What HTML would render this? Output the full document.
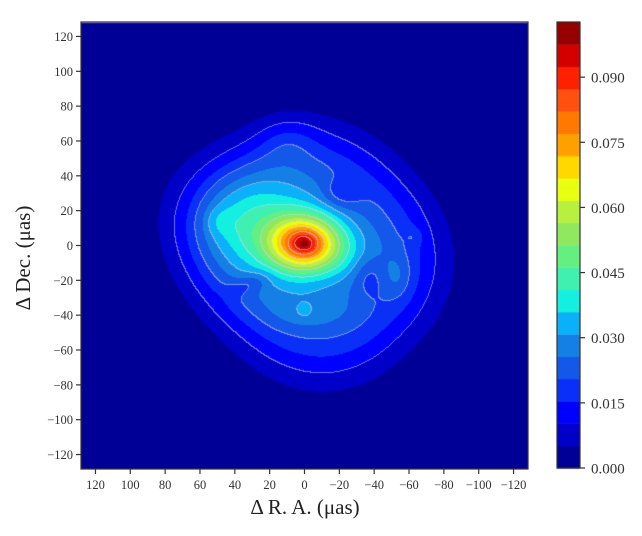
<!DOCTYPE html>
<html><head><meta charset="utf-8">
<style>
html,body{margin:0;padding:0;background:#fff;}
#wrap{position:relative;width:642px;height:536px;overflow:hidden;font-family:"Liberation Serif",serif;}
canvas{position:absolute;left:0;top:0;}
</style></head>
<body>
<div id="wrap">
<canvas id="cv" width="642" height="536"></canvas>
<svg id="sv" width="642" height="536" style="position:absolute;left:0;top:0"></svg>
</div>
<script>
// ---- data ----
const xTicks = [120,100,80,60,40,20,0,-20,-40,-60,-80,-100,-120];
const yTicks = [120,100,80,60,40,20,0,-20,-40,-60,-80,-100,-120];
const cbTicks = [0.000,0.015,0.030,0.045,0.060,0.075,0.090];
const cbTickLabels = ["0.000","0.015","0.030","0.045","0.060","0.075","0.090"];
const levelMax = 0.1027;
const nLevels = 20;
const bandColors = ["#000096","#0000c8","#0000ff","#0a30f8","#1458ea","#1480e6","#0ab0f8","#14f0e0","#40f0b0","#64f080",
 "#90e860","#b8f040","#e8ff10","#ffd800","#ffa000","#ff7800","#ff5010","#ff2000","#d40000","#960000"];
// emission components: RA offset, Dec offset, sigma major, sigma minor, angle(deg), amplitude, profile power, norm exponent
const compX   = [-7,  35,  0,   0,   -25, -37,   -53,   -63,   31,    0,     0,     -22,   10,   49];
const compY   = [-5,  15,  1,   1,   -5,  -18,   -18,   5,     -22,   -38,   -38,   30,    60,   14];
const compSa  = [58,  27,  14,  5,   15,  7,     6,     3.5,   9,     18,    3,     8,     12,   6];
const compSb  = [55,  24,  11,  4,   12,  9,     9,     3.5,   4,     8,     3,     6,     10,   6];
const compAng = [45,  15,  0,   0,   0,   0,     0,     0,     -20,   0,     0,     0,     0,    0];
const compAmp = [0.025,0.020,0.054,0.012,0.006,-0.007,0.006,0.004,-0.007,0.005,0.003,-0.008,0.006,0.005];
const compPow = [4,   2,   2,   2,   2,   2,     2,     2,     2,     2,     2,     2,     2,    2];
const compNorm= [2.3, 2,   2,   2,   2,   2,     2,     2,     2,     2,     2,     2,     2,    2];

// ---- geometry ----
const L=81, R=528, T=22, B=469;
const xMin=-128.3, xMax=128.3;
function px(v){ return L + (xMax - v)/(xMax-xMin)*(R-L); }
function py(v){ return T + (xMax - v)/(xMax-xMin)*(B-T); }
function dx(p){ return xMax - (p-L)/(R-L)*(xMax-xMin); }
function dy(p){ return xMax - (p-T)/(B-T)*(xMax-xMin); }
const cbL=557, cbR=580, cbT=22, cbB=468;
function cy(v){ return cbB - v/levelMax*(cbB-cbT); }

function field(x,y){
  let s=0;
  for(let i=0;i<compX.length;i++){
    const a=compAng[i]*Math.PI/180, ddx=x-compX[i], ddy=y-compY[i];
    const u=Math.abs((ddx*Math.cos(a)+ddy*Math.sin(a))/compSa[i]);
    const v=Math.abs((-ddx*Math.sin(a)+ddy*Math.cos(a))/compSb[i]);
    const n=compNorm[i];
    const q=Math.pow(Math.pow(u,n)+Math.pow(v,n),1/n);
    s+=compAmp[i]*Math.exp(-0.5*Math.pow(q,compPow[i]));
  }
  return s;
}
function band(f){ let b=Math.floor(f/(levelMax/nLevels)); return Math.max(0,Math.min(nLevels-1,b)); }
function hex(c){ return [parseInt(c.substr(1,2),16),parseInt(c.substr(3,2),16),parseInt(c.substr(5,2),16)]; }
const rgb = bandColors.map(hex);

const cv=document.getElementById('cv'), ctx=cv.getContext('2d');
const W=R-L, H=B-T;
const img=ctx.createImageData(W,H);
const bands=new Int16Array(W*H);
for(let j=0;j<H;j++)for(let i=0;i<W;i++){
  bands[j*W+i]=band(field(dx(L+i+0.5),dy(T+j+0.5)));
}
for(let j=0;j<H;j++)for(let i=0;i<W;i++){
  const b=bands[j*W+i]; let c=rgb[b];
  const k=(j*W+i)*4;
  let edge=false;
  if(i<W-1 && bands[j*W+i+1]!==b && Math.max(b,bands[j*W+i+1])%2===0) edge=true;
  if(j<H-1 && bands[(j+1)*W+i]!==b && Math.max(b,bands[(j+1)*W+i])%2===0) edge=true;
  if(edge){ c=[Math.round(c[0]*0.45+200*0.55),Math.round(c[1]*0.45+210*0.55),Math.round(c[2]*0.45+240*0.55)]; }
  img.data[k]=c[0];img.data[k+1]=c[1];img.data[k+2]=c[2];img.data[k+3]=255;
}
ctx.putImageData(img,L,T);
ctx.fillStyle="#c8d0ff"; ctx.fillRect(L,T,W,1);
for(let b=0;b<nLevels;b++){
  const y0=cy((b+1)*levelMax/nLevels), y1=cy(b*levelMax/nLevels);
  ctx.fillStyle=bandColors[b];
  ctx.fillRect(cbL,y0,cbR-cbL,y1-y0+0.5);
}

// ---- axes in SVG ----
const NS="http://www.w3.org/2000/svg", sv=document.getElementById('sv');
function el(t,a,p){ const e=document.createElementNS(NS,t); for(const k in a)e.setAttribute(k,a[k]); (p||sv).appendChild(e); return e; }
const frame=el('rect',{x:L,y:T,width:W,height:H,fill:'none',stroke:'#333','stroke-width':1.2});


const cbf=el('rect',{x:cbL,y:cbT,width:cbR-cbL,height:cbB-cbT,fill:'none',stroke:'#333','stroke-width':1.2});


xTicks.forEach(v=>{
  const x=px(v);
  const ln=el('line',{x1:x,x2:x,y1:B,y2:B+5,stroke:'#333','stroke-width':1.2});
  
  
  const t=el('text',{x:x,y:B+20,'text-anchor':'middle','font-size':12.5,fill:'#333','font-family':'Liberation Serif, serif'});
  t.textContent=(v<0?'\u2212'+(-v):String(v));
  
  
});
yTicks.forEach(v=>{
  const y=py(v);
  const ln=el('line',{x1:L-5,x2:L,y1:y,y2:y,stroke:'#333','stroke-width':1.2});
  
  
  const t=el('text',{x:L-8,y:y+4.5,'text-anchor':'end','font-size':12.5,fill:'#333','font-family':'Liberation Serif, serif'});
  t.textContent=(v<0?'\u2212'+(-v):String(v));
  
  
});
cbTicks.forEach((v,i)=>{
  const y=cy(v);
  const ln=el('line',{x1:cbR,x2:cbR+5,y1:y,y2:y,stroke:'#333','stroke-width':1.2});
  
  
  const t=el('text',{x:cbR+11,y:y+5.5,'font-size':15,fill:'#333','font-family':'Liberation Serif, serif'});
  t.textContent=cbTickLabels[i];
  
  
});
const xt=el('text',{x:305,y:514,'text-anchor':'middle','font-size':21,fill:'#222','font-family':'Liberation Serif, serif'});
xt.textContent='\u0394 R. A.  (\u03bcas)';
xt.setAttribute('xml:space','preserve');


const yt=el('text',{x:0,y:0,'text-anchor':'middle','font-size':21,fill:'#222','font-family':'Liberation Serif, serif',transform:'translate(30,258) rotate(-90)'});
yt.textContent='\u0394 Dec.  (\u03bcas)';
yt.setAttribute('xml:space','preserve');


</script>
</body></html>
